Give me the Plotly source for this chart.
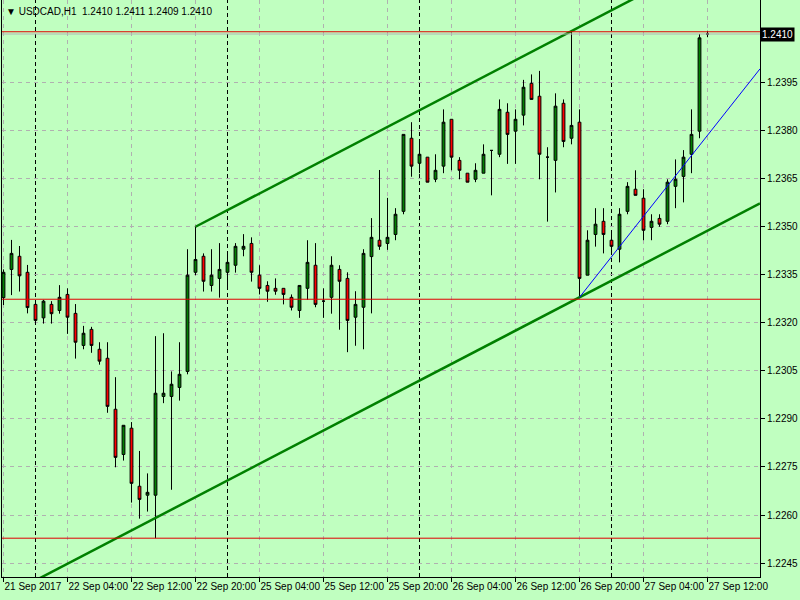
import plotly.graph_objects as go

# ---------------- data ----------------
SYMBOL_TITLE = "\u25BC USDCAD,H1  1.2410 1.2411 1.2409 1.2410"

BAR_INDEX = list(range(89))  # H1 bars, 21 Sep 2017 20:00 ... 27 Sep 12:00 (weekend skipped)

OPEN = [
    1.23278, 1.23366, 1.23407, 1.23357, 1.23257, 1.23215, 1.23257, 1.23238, 1.23288, 1.23229,
    1.23129, 1.23179, 1.23117, 1.23089, 1.22930, 1.22789, 1.22871, 1.22690, 1.22662, 1.22662,
    1.22970, 1.22970, 1.22998, 1.23048, 1.23357, 1.23407, 1.23316, 1.23338, 1.23357, 1.23379,
    1.23429, 1.23447, 1.23348, 1.23316, 1.23307, 1.23307, 1.23279, 1.23238, 1.23307, 1.23379,
    1.23267, 1.23279, 1.23366, 1.23338, 1.23217, 1.23248, 1.23406, 1.23457, 1.23447, 1.23475,
    1.23547, 1.23775, 1.23697, 1.23716, 1.23647, 1.23688, 1.23834, 1.23706, 1.23666, 1.23647,
    1.23666, 1.23737, 1.23725, 1.23856, 1.23797, 1.23847, 1.23946, 1.23906, 1.23716, 1.23706,
    1.23884, 1.23775, 1.23825, 1.23348, 1.23475, 1.23516, 1.23457, 1.23429, 1.23547, 1.23616,
    1.23588, 1.23497, 1.23525, 1.23516, 1.23625, 1.23656, 1.23725, 1.23797, 1.24100]

HIGH = [
    1.23366, 1.23458, 1.23439, 1.23380, 1.23261, 1.23271, 1.23267, 1.23317, 1.23307, 1.23258,
    1.23190, 1.23187, 1.23139, 1.23139, 1.23030, 1.22880, 1.22890, 1.22800, 1.22730, 1.23158,
    1.23167, 1.23048, 1.23139, 1.23429, 1.23499, 1.23416, 1.23429, 1.23448, 1.23413, 1.23448,
    1.23476, 1.23466, 1.23379, 1.23329, 1.23338, 1.23307, 1.23288, 1.23316, 1.23457, 1.23448,
    1.23307, 1.23407, 1.23379, 1.23357, 1.23298, 1.23429, 1.23526, 1.23676, 1.23589, 1.23557,
    1.23787, 1.23825, 1.23770, 1.23716, 1.23725, 1.23865, 1.23834, 1.23716, 1.23666, 1.23697,
    1.23756, 1.23737, 1.23896, 1.23884, 1.23865, 1.23957, 1.23974, 1.23985, 1.23747, 1.23915,
    1.23896, 1.24109, 1.23865, 1.23488, 1.23557, 1.23557, 1.23479, 1.23557, 1.23638, 1.23675,
    1.23616, 1.23538, 1.23538, 1.23647, 1.23709, 1.23738, 1.23865, 1.24100, 1.24110]

LOW = [
    1.23255, 1.23286, 1.23297, 1.23229, 1.23197, 1.23197, 1.23197, 1.23228, 1.23165, 1.23088,
    1.23117, 1.23106, 1.23069, 1.22919, 1.22749, 1.22770, 1.22639, 1.22589, 1.22611, 1.22528,
    1.22949, 1.22679, 1.22957, 1.23039, 1.23348, 1.23297, 1.23297, 1.23278, 1.23312, 1.23356,
    1.23407, 1.23328, 1.23288, 1.23265, 1.23287, 1.23257, 1.23238, 1.23215, 1.23271, 1.23248,
    1.23215, 1.23228, 1.23178, 1.23108, 1.23128, 1.23117, 1.23229, 1.23427, 1.23427, 1.23457,
    1.23538, 1.23655, 1.23666, 1.23638, 1.23638, 1.23666, 1.23675, 1.23647, 1.23638, 1.23638,
    1.23666, 1.23597, 1.23716, 1.23695, 1.23695, 1.23815, 1.23896, 1.23647, 1.23515, 1.23606,
    1.23747, 1.23756, 1.23279, 1.23348, 1.23437, 1.23416, 1.23416, 1.23388, 1.23538, 1.23597,
    1.23457, 1.23457, 1.23499, 1.23507, 1.23557, 1.23575, 1.23666, 1.23775, 1.24090]

CLOSE = [
    1.23357, 1.23416, 1.23346, 1.23247, 1.23207, 1.23267, 1.23228, 1.23279, 1.23217, 1.23139,
    1.23167, 1.23129, 1.23080, 1.22939, 1.22780, 1.22880, 1.22699, 1.22649, 1.22671, 1.22980,
    1.22980, 1.23008, 1.23039, 1.23348, 1.23397, 1.23329, 1.23348, 1.23366, 1.23388, 1.23438,
    1.23438, 1.23357, 1.23307, 1.23298, 1.23298, 1.23288, 1.23248, 1.23316, 1.23388, 1.23257,
    1.23267, 1.23379, 1.23329, 1.23207, 1.23257, 1.23416, 1.23466, 1.23438, 1.23466, 1.23538,
    1.23787, 1.23688, 1.23725, 1.23638, 1.23675, 1.23825, 1.23716, 1.23675, 1.23638, 1.23675,
    1.23725, 1.23737, 1.23865, 1.23787, 1.23834, 1.23934, 1.23896, 1.23725, 1.23716, 1.23875,
    1.23765, 1.23815, 1.23338, 1.23457, 1.23507, 1.23475, 1.23438, 1.23538, 1.23625, 1.23597,
    1.23488, 1.23516, 1.23507, 1.23638, 1.23647, 1.23716, 1.23787, 1.24088, 1.24100]

X_TICK_POS = [0, 8, 16, 24, 32, 40, 48, 56, 64, 72, 80, 88]
X_TICK_TEXT = ["21 Sep 2017", "22 Sep 04:00", "22 Sep 12:00", "22 Sep 20:00",
               "25 Sep 04:00", "25 Sep 12:00", "25 Sep 20:00", "26 Sep 04:00",
               "26 Sep 12:00", "26 Sep 20:00", "27 Sep 04:00", "27 Sep 12:00"]
DAY_SEPARATORS = [4, 28, 52, 76]  # 22, 25, 26, 27 Sep 00:00

Y_TICKS = [1.2245, 1.2260, 1.2275, 1.2290, 1.2305, 1.2320, 1.2335,
           1.2350, 1.2365, 1.2380, 1.2395]
Y_TICK_TEXT = ["%.4f" % v for v in Y_TICKS]

BID_PRICE = 1.2410
RED_LEVELS = [1.24107, 1.23273, 1.22528]
UPPER_CHANNEL = [(24, 1.23499), (71, 1.24109)]
LOWER_CHANNEL_ANCHOR = (72, 1.23279)
BLUE_TREND = [(72, 1.23279), (86, 1.23721)]

X_RANGE = [-0.1875, 94.5625]
Y_RANGE = [1.22407, 1.24206]

BG = "#c0ffc0"
FONT = "Liberation Sans"

# ---------------- figure ----------------
fig = go.Figure()
fig.add_trace(go.Candlestick(
    x=BAR_INDEX, open=OPEN, high=HIGH, low=LOW, close=CLOSE,
    increasing=dict(line=dict(color="black", width=1), fillcolor="#008000"),
    decreasing=dict(line=dict(color="black", width=1), fillcolor="#ff0000"),
    whiskerwidth=0, showlegend=False, hoverinfo="skip",
))

shapes = []
for k in DAY_SEPARATORS:
    shapes.append(dict(type="line", xref="x", yref="paper", x0=k, x1=k, y0=0, y1=1,
                       line=dict(color="black", width=1, dash="4px,3px"), layer="below"))

def line_through(p0, p1, xa, xb):
    s = (p1[1] - p0[1]) / (p1[0] - p0[0])
    return (xa, p0[1] + s * (xa - p0[0]), xb, p0[1] + s * (xb - p0[0])), s

(ux0, uy0, ux1, uy1), slope = line_through(UPPER_CHANNEL[0], UPPER_CHANNEL[1],
                                          UPPER_CHANNEL[0][0], X_RANGE[1])
shapes.append(dict(type="line", xref="x", yref="y", x0=ux0, y0=uy0, x1=ux1, y1=uy1,
                   line=dict(color="#008000", width=2.5)))
lk, lp = LOWER_CHANNEL_ANCHOR
shapes.append(dict(type="line", xref="x", yref="y",
                   x0=X_RANGE[0], y0=lp + slope * (X_RANGE[0] - lk),
                   x1=X_RANGE[1], y1=lp + slope * (X_RANGE[1] - lk),
                   line=dict(color="#008000", width=2.5)))
(bx0, by0, bx1, by1), _ = line_through(BLUE_TREND[0], BLUE_TREND[1],
                                       BLUE_TREND[0][0], X_RANGE[1])
shapes.append(dict(type="line", xref="x", yref="y", x0=bx0, y0=by0, x1=bx1, y1=by1,
                   line=dict(color="#0000ff", width=1)))

shapes.append(dict(type="line", xref="paper", yref="y", x0=0, x1=1, y0=BID_PRICE, y1=BID_PRICE,
                   line=dict(color="#b4b4b4", width=1)))
for lvl in RED_LEVELS:
    shapes.append(dict(type="line", xref="paper", yref="y", x0=0, x1=1, y0=lvl, y1=lvl,
                       line=dict(color="#e00000", width=1)))

annotations = [
    dict(xref="paper", yref="paper", x=0, y=1, xanchor="left", yanchor="top",
         xshift=2, yshift=-4, text=SYMBOL_TITLE, showarrow=False,
         font=dict(family=FONT, size=10, color="black")),
    dict(xref="paper", yref="y", x=1, y=BID_PRICE, xanchor="left", yanchor="middle",
         text="%.4f" % BID_PRICE, showarrow=False, bgcolor="black", borderpad=1,
         font=dict(family=FONT, size=10, color="white")),
]

fig.update_layout(
    width=800, height=600,
    margin=dict(l=2, r=40, t=0, b=23, autoexpand=False),
    paper_bgcolor=BG, plot_bgcolor=BG,
    boxgap=0.5,
    hovermode=False,
    showlegend=False,
    shapes=shapes,
    annotations=annotations,
    font=dict(family=FONT, size=10, color="black"),
    xaxis=dict(
        range=X_RANGE, rangeslider=dict(visible=False),
        tickvals=X_TICK_POS, ticktext=X_TICK_TEXT, tickangle=0,
        ticks="outside", ticklen=4, tickcolor="black",
        ticklabelposition="outside right", automargin=False,
        tickfont=dict(family=FONT, size=10, color="black"),
        showline=True, linecolor="black", linewidth=1,
        showgrid=True, gridcolor="#b0b0b0", griddash="4px,4px", gridwidth=1,
        zeroline=False, fixedrange=True,
    ),
    yaxis=dict(
        range=Y_RANGE, side="right", automargin=False,
        tickvals=Y_TICKS, ticktext=Y_TICK_TEXT,
        ticks="outside", ticklen=4, tickcolor="black",
        tickfont=dict(family=FONT, size=10, color="black"),
        showline=True, linecolor="black", linewidth=1, mirror=True,
        showgrid=True, gridcolor="#b0b0b0", griddash="4px,4px", gridwidth=1,
        zeroline=False, fixedrange=True,
    ),
)

fig.write_html("out.html", config={"displayModeBar": False},
               post_script="document.body.style.margin='0';document.body.style.overflow='hidden';")
